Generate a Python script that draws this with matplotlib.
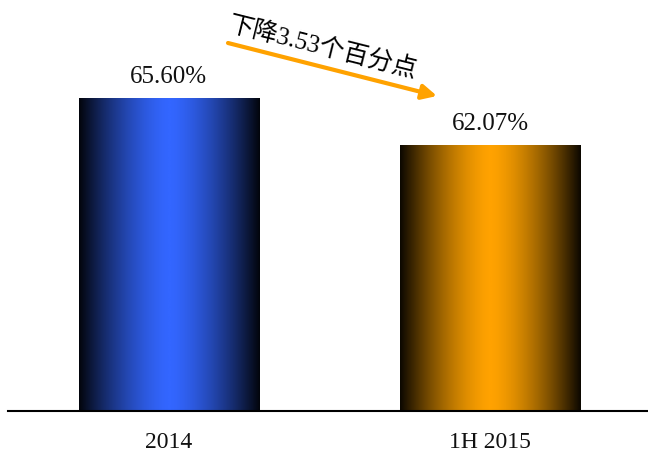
import numpy as np
import matplotlib.pyplot as plt
from matplotlib.colors import LinearSegmentedColormap

categories = ['2014', '1H 2015']
values = [65.60, 62.07]
labels = ['65.60%', '62.07%']
colors = ['#3366ff', '#ffa200']
note = '下降3.53个百分点'

serif = ['Liberation Serif', 'Noto Sans CJK SC']

fig = plt.figure(figsize=(6.48, 4.53), dpi=100)
ax = fig.add_axes([8 / 648, 42 / 453, 640 / 648, 411 / 453])
ymin, ymax = 42.1, 73.0
ax.set_xlim(-0.5, 1.49)
ax.set_ylim(ymin, ymax)

width = 0.56
x = np.linspace(-1, 1, 256)
profile = 1 - np.abs(x) ** 1.5
grad = profile[np.newaxis, :]

for i, (v, c) in enumerate(zip(values, colors)):
    cmap = LinearSegmentedColormap.from_list('g%d' % i, ['#000000', c])
    ax.imshow(grad, cmap=cmap, vmin=-0.05, vmax=1, aspect='auto',
              extent=[i - width / 2, i + width / 2, ymin, v], zorder=2)
    ax.text(i, v + 0.75, labels[i], ha='center', va='bottom',
            fontsize=18, family=serif, color='#111111')

ax.set_xticks(range(len(categories)))
ax.set_xticklabels(categories, fontsize=17, family=serif, color='#111111')
ax.tick_params(axis='x', length=0, pad=15)
ax.set_yticks([])
for s in ['top', 'left', 'right']:
    ax.spines[s].set_visible(False)
ax.spines['bottom'].set_linewidth(1.5)
ax.spines['bottom'].set_zorder(3)

# arrow and note
ax.annotate('', xy=(437 / 648, 1 - 96 / 453), xytext=(228 / 648, 1 - 43 / 453),
            xycoords='figure fraction', textcoords='figure fraction',
            arrowprops=dict(arrowstyle='-|>', color='#ffa200', lw=3,
                            mutation_scale=22, shrinkA=0, shrinkB=0))
fig.text(323 / 648, 1 - 47 / 453, note, rotation=-14, ha='center', va='center',
         fontsize=18, family=serif, color='#000000', rotation_mode='anchor')

fig.savefig('out.png', dpi=100)
